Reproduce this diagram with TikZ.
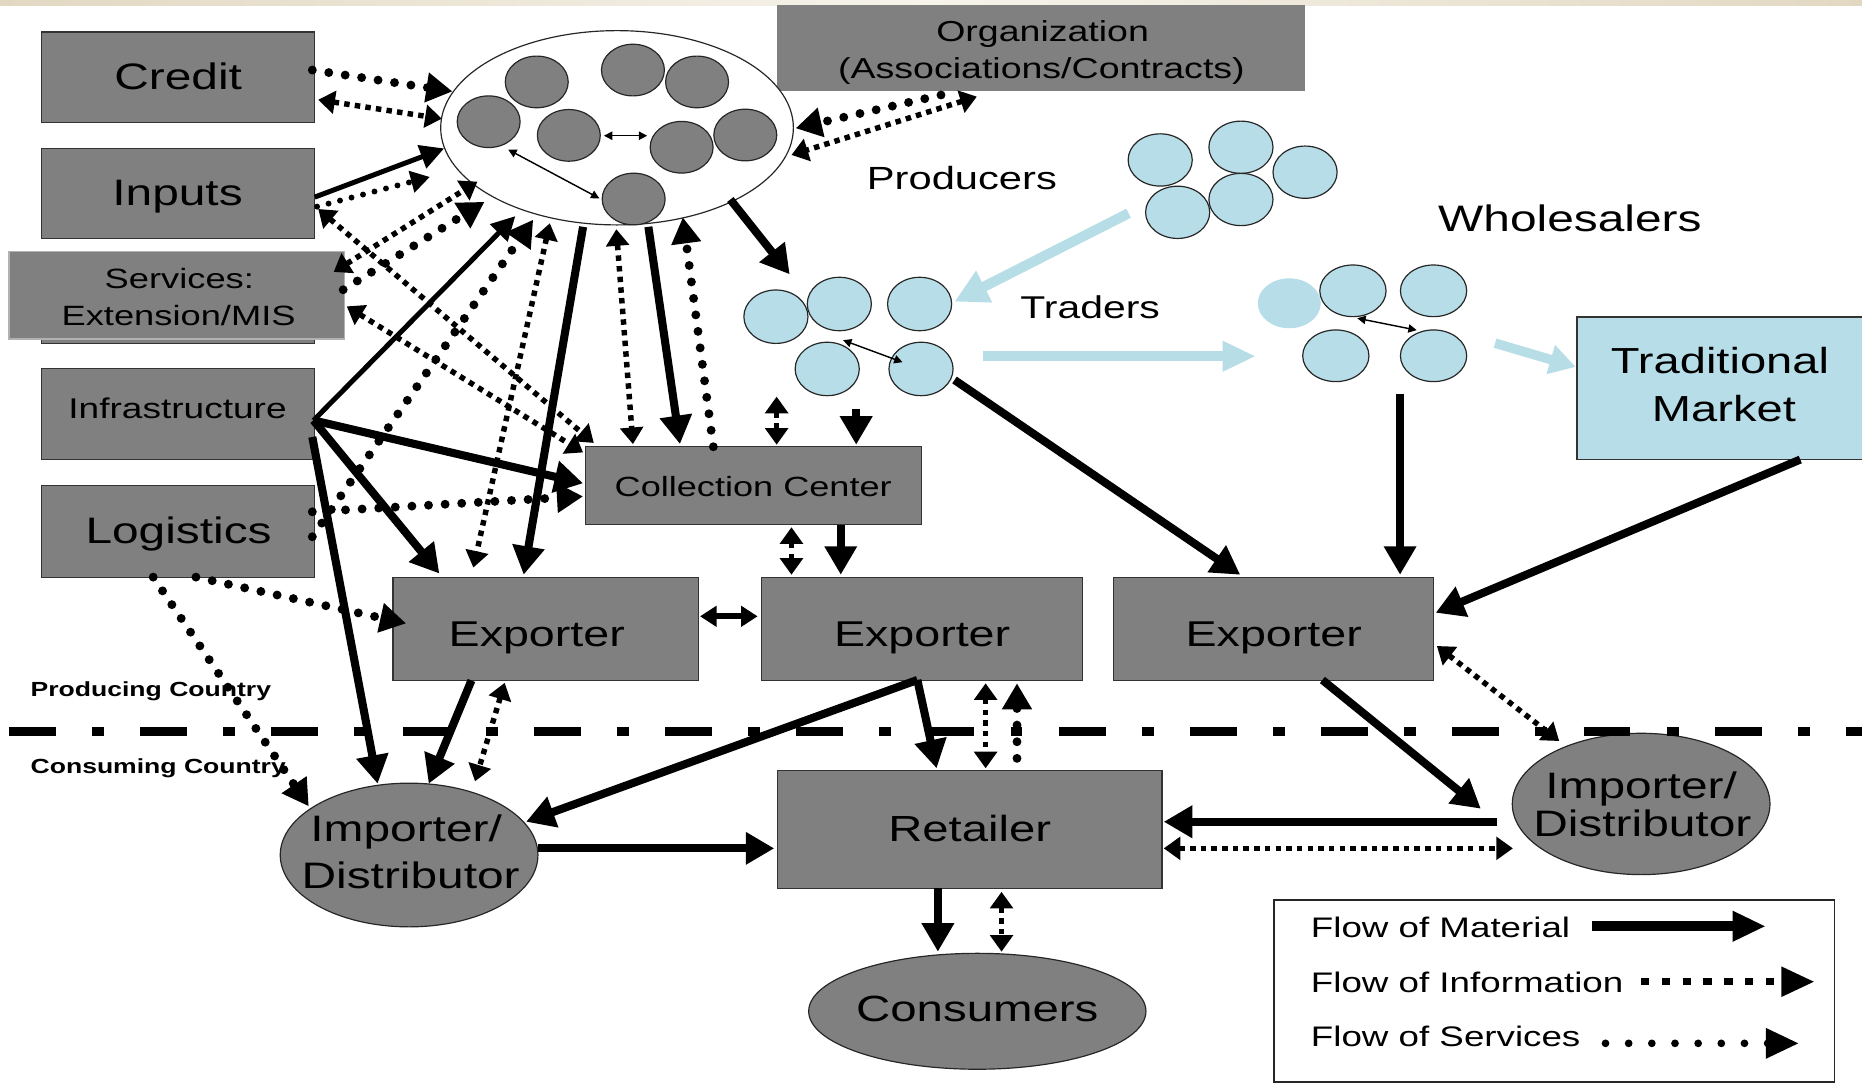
\documentclass[tikz,border=0pt]{standalone}
\usepackage{fontspec}
\setmainfont{Liberation Sans}[FakeStretch=1.3]
\usetikzlibrary{arrows.meta,shapes.geometric}
\definecolor{boxgray}{RGB}{128,128,128}
\definecolor{ltblue}{RGB}{183,221,232}
\definecolor{ltarrow}{RGB}{183,222,230}
\definecolor{beigeA}{RGB}{226,216,194}
\definecolor{beigeB}{RGB}{247,244,236}
\newcommand\myfs[2]{\fontsize{#1}{#2}\selectfont}
\tikzset{
  AMat/.tip={Triangle[length=24pt,width=26pt]},
  AMed/.tip={Triangle[length=20pt,width=20pt]},
  AExx/.tip={Triangle[length=14pt,width=17pt]},
  AInf/.tip={Triangle[length=14pt,width=19pt]},
  ASrv/.tip={Triangle[length=22pt,width=24pt]},
  ASrs/.tip={Triangle[length=16pt,width=18pt]},
  ATin/.tip={Triangle[length=7pt,width=7pt]},
  ALb/.tip={Triangle[length=28pt,width=28pt]},
  ALbs/.tip={Triangle[length=22pt,width=24pt]},
  ALeg/.tip={Triangle[length=28pt,width=24pt]},
}
\begin{document}
\begin{tikzpicture}[x=1pt,y=-1pt,
  box/.style={draw=black!80, line width=1pt, fill=boxgray, inner sep=0pt},
  circg/.style={ellipse, draw=black!85, line width=1pt, fill=boxgray, minimum width=53pt, minimum height=43.5pt, inner sep=0pt},
  circb/.style={ellipse, draw=black!85, line width=1pt, fill=ltblue, minimum width=54pt, minimum height=44pt, inner sep=0pt},
  ell/.style={ellipse, draw=black!85, line width=1pt, fill=boxgray, inner sep=0pt},
  txt/.style={inner sep=0pt, anchor=base},
  mat/.style={line width=6.8pt, -AMat},
  matm/.style={line width=4.2pt, -AMed},
  info/.style={line width=4.6pt, dash pattern=on 4.6pt off 4.4pt, AInf-AInf},
  serv/.style={line width=7.5pt, line cap=round, dash pattern=on 0pt off 14pt, -ASrv},
  servs/.style={line width=5pt, line cap=round, dash pattern=on 0pt off 10pt, -ASrs},
  thinar/.style={line width=1.2pt, ATin-ATin},
  lb/.style={draw=ltarrow, line width=8.5pt, -ALb},
]
% background
\fill[white] (0,0) rectangle (1568,912);
\useasboundingbox (0,0) rectangle (1568,912);
\shade[left color=beigeA, right color=beigeA, middle color=beigeB] (0,0) rectangle (1568,5);

% left boxes
\node[box, minimum width=230pt, minimum height=76pt] (credit) at (150,65) {};
\node[txt, font=\myfs{31}{37}] (credittxt) at (150,75.5) {Credit};
\node[box, minimum width=230pt, minimum height=76pt] (inputs) at (150,163) {};
\node[txt, font=\myfs{31}{37}] (inputstxt) at (149.5,173) {Inputs};
\node[box, minimum width=230pt, minimum height=77pt] (servback) at (150,250.5) {};
\node[box, draw=gray!60, minimum width=282.5pt, minimum height=73.5pt] (services) at (148.75,248.75) {};
\node[txt, font=\myfs{23.5}{30}] (servtxta) at (151,242.8) {Services:};
\node[txt, font=\myfs{23.5}{30}] (servtxtb) at (150.4,273.7) {Extension/MIS};
\node[box, minimum width=230pt, minimum height=77pt] (infra) at (150,348.5) {};
\node[txt, font=\myfs{24}{30}] (infratxt) at (149.5,352.3) {Infrastructure};
\node[box, minimum width=230pt, minimum height=77pt] (logistics) at (150,447.5) {};
\node[txt, font=\myfs{31}{37}] (logtxt) at (150.4,457.8) {Logistics};

% organization
\node[box, draw=none, minimum width=445pt, minimum height=73pt] (org) at (876.5,40.5) {};
\node[txt, font=\myfs{24.3}{30}] (orgtxta) at (878,35.1) {Organization};
\node[txt, font=\myfs{24.3}{30}] (orgtxtb) at (877,66) {(Associations/Contracts)};

% producers ellipse
\node[ellipse, draw=black!85, line width=1pt, fill=white, minimum width=297pt, minimum height=163.6pt, inner sep=0pt] (prod) at (519.6,107.6) {};
\node[circg] (pc1) at (452,69) {};
\node[circg] (pc2) at (533,59) {};
\node[circg] (pc3) at (587,69) {};
\node[circg] (pc4) at (411.5,102.5) {};
\node[circg] (pc5) at (479,114) {};
\node[circg] (pc6) at (574,124) {};
\node[circg] (pc7) at (627.6,113.7) {};
\node[circg] (pc8) at (533.6,167.6) {};
\draw[thinar] ([shift={(29.6,0.3)}]pc5.center) -- ([shift={(-29,-9.7)}]pc6.center);
\draw[thinar] ([shift={(16.5,23.5)}]pc4.center) -- ([shift={(-28.9,-0.6)}]pc8.center);

\node[txt, font=\myfs{27}{33}] (producers) at (810,160) {Producers};

% light blue producers group
\node[circb] (pb1) at (977,134.7) {};
\node[circb] (pb2) at (1045,124) {};
\node[circb] (pb3) at (1099,145) {};
\node[circb] (pb4) at (991.7,178.8) {};
\node[circb] (pb5) at (1045,168) {};

% traders
\node[circb, minimum height=45pt] (t1) at (653.4,266.7) {};
\node[circb, minimum height=45pt] (t2) at (706.8,256) {};
\node[circb, minimum height=45pt] (t3) at (774.4,256) {};
\node[circb, minimum height=45pt] (t4) at (696.6,310.7) {};
\node[circb, minimum height=45pt] (t5) at (775.6,310.7) {};
\draw[thinar] ([shift={(13.4,-24.2)}]t4.center) -- ([shift={(-15.6,-5.7)}]t5.center);
\node[txt, font=\myfs{26.5}{32}] (traders) at (918,268) {Traders};

% wholesalers
\node[circb, draw=none, minimum width=53pt, minimum height=42pt] (wg) at (1085.7,255.4) {};
\node[circb, minimum width=55.8pt, minimum height=43.5pt] (w1) at (1139.3,244.9) {};
\node[circb, minimum width=55.8pt, minimum height=43.5pt] (w2) at (1207.2,244.9) {};
\node[circb, minimum width=55.8pt, minimum height=43.5pt] (w3) at (1124.9,299.6) {};
\node[circb, minimum width=55.8pt, minimum height=43.5pt] (w4) at (1207.2,299.6) {};
\draw[thinar] ([shift={(3.7,23.1)}]w1.center) -- ([shift={(-14.2,-21.6)}]w4.center);
\node[txt, font=\myfs{31}{37}] (wholesalers) at (1322,195) {Wholesalers};

% traditional market
\node[box, fill=ltblue, minimum width=246pt, minimum height=120pt] (tm) at (1451,327) {};
\node[txt, font=\myfs{30.5}{37}] (tmtxta) at (1448.4,314.4) {Traditional};
\node[txt, font=\myfs{30.5}{37}] (tmtxtb) at (1451.7,355.1) {Market};

% collection center and exporters
\node[box, minimum width=283pt, minimum height=66pt] (cc) at (634.5,409) {};
\node[txt, font=\myfs{23.4}{29}] (cctxt) at (634.3,418.2) {Collection Center};
\node[box, minimum width=257pt, minimum height=87pt] (ex1) at (459.5,529.5) {};
\node[txt, font=\myfs{30.2}{36}] (ex1txt) at (452,544.6) {Exporter};
\node[box, minimum width=270pt, minimum height=87pt] (ex2) at (776.5,529.5) {};
\node[txt, font=\myfs{30.2}{36}] (ex2txt) at (776.5,544.6) {Exporter};
\node[box, minimum width=269pt, minimum height=87pt] (ex3) at (1072.5,529.5) {};
\node[txt, font=\myfs{30.2}{36}] (ex3txt) at (1072.6,544.6) {Exporter};

% consuming side
\node[box, minimum width=324pt, minimum height=99pt] (retailer) at (816.5,698.5) {};
\node[txt, font=\myfs{30.6}{36}] (rettxt) at (816.6,708.8) {Retailer};
\node[ell, minimum width=217pt, minimum height=121pt] (impL) at (344.5,720) {};
\node[txt, font=\myfs{31}{37}] (impLa) at (342,708.8) {Importer/};
\node[txt, font=\myfs{31}{37}] (impLb) at (345.8,748) {Distributor};
\node[ell, minimum width=217pt, minimum height=119pt] (impR) at (1382,677) {};
\node[txt, font=\myfs{31}{37}] (impRa) at (1382,672.3) {Importer/};
\node[txt, font=\myfs{31}{37}] (impRb) at (1383,704.6) {Distributor};
\node[ell, minimum width=284pt, minimum height=97.6pt] (cons) at (823,851.6) {};
\node[txt, font=\myfs{30.7}{36}] (constxt) at (823,860.4) {Consumers};

% divider
\draw[line width=8.4pt, dash pattern=on 39.5pt off 30.5pt on 10pt off 30.5pt] (7.5,616) -- (1568,616);
\node[txt, anchor=base west, font=\bfseries\myfs{17.2}{21}] (prodcountry) at (25.6,586.7) {Producing Country};
\node[txt, anchor=base west, font=\bfseries\myfs{17.2}{21}] (conscountry) at (25.6,651.2) {Consuming Country};

% light blue flows
\draw[lb] ([shift={(-41.3,0.8)}]pb4.center) -- ([shift={(29.4,-2)}]t3.center);
\draw[lb, -{Triangle[length=28pt,width=24pt]}] ([shift={(52.4,-10.7)}]t5.center) -- ([shift={(-28.2,44.6)}]wg.center);
\draw[lb, line width=8pt, -ALbs] ([shift={(51.8,-10.6)}]w4.center) -- ([shift={(-124,-18)}]tm.center);

% credit / inputs / services
\draw[serv] ([shift={(113,-6)}]credit.center) -- ([shift={(-138.6,-30.6)}]prod.center);
\draw[info] ([shift={(118,19)}]credit.center) -- ([shift={(-147.6,-7.6)}]prod.center);
\draw[matm] ([shift={(115,3)}]inputs.center) -- ([shift={(-145.6,17.4)}]prod.center);
\draw[servs] ([shift={(117,11)}]inputs.center) -- ([shift={(-157.6,41.4)}]prod.center);
\draw[info] ([shift={(118,13)}]inputs.center) -- ([shift={(-134.5,-36)}]cc.center);
\draw[info] ([shift={(143.25,9.25)}]services.center) -- ([shift={(-143.5,-28)}]cc.center);
\draw[info] ([shift={(132.25,-19.75)}]services.center) -- ([shift={(-117.6,45.4)}]prod.center);
\draw[serv] ([shift={(140.25,-4.75)}]services.center) -- ([shift={(-111.6,62.4)}]prod.center);

% infrastructure / logistics
\draw[matm] ([shift={(114,5.5)}]infra.center) -- ([shift={(-85.6,74.4)}]prod.center);
\draw[serv] ([shift={(113,4.5)}]logistics.center) -- ([shift={(-70.6,77.4)}]prod.center);
\draw[mat] ([shift={(114,5.5)}]infra.center) -- ([shift={(-143.5,-2)}]cc.center);
\draw[serv] ([shift={(113,-16.5)}]logistics.center) -- ([shift={(-143.5,9)}]cc.center);
\draw[mat] ([shift={(114,5.5)}]infra.center) -- ([shift={(-89.5,-46.5)}]ex1.center);
\draw[mat] ([shift={(113,19.5)}]infra.center) -- ([shift={(-26.5,-60)}]impL.center);
\draw[serv] ([shift={(15,38.5)}]logistics.center) -- ([shift={(-117.5,-4.5)}]ex1.center);
\draw[serv] ([shift={(-21,38.5)}]logistics.center) -- ([shift={(-84.5,-41)}]impL.center);

% producers to collection center / exporter
\draw[info] ([shift={(-56.6,80.4)}]prod.center) -- ([shift={(-60.9,-51.5)}]ex1.center);
\draw[mat] ([shift={(-28.6,83.4)}]prod.center) -- ([shift={(-18.5,-45.5)}]ex1.center);
\draw[info] ([shift={(-0.6,85.4)}]prod.center) -- ([shift={(-101.5,-35)}]cc.center);
\draw[mat] ([shift={(26.4,83.4)}]prod.center) -- ([shift={(-61.9,-35)}]cc.center);
\draw[serv] ([shift={(-33.8,-32.8)}]cc.center) -- ([shift={(55.4,75.4)}]prod.center);
\draw[mat] ([shift={(95.4,60.4)}]prod.center) -- ([shift={(11.6,-35.7)}]t1.center);

% organization
\draw[serv] ([shift={(-84.1,39.5)}]org.center) -- ([shift={(150.4,0.4)}]prod.center);
\draw[info] ([shift={(-53.9,40.9)}]org.center) -- ([shift={(146.9,22.9)}]prod.center);

% traders / collection center / exporters
\draw[info] ([shift={(-42.6,23.3)}]t4.center) -- ([shift={(19.5,-34.5)}]cc.center);
\draw[mat] ([shift={(24.4,33.3)}]t4.center) -- ([shift={(86.5,-34.5)}]cc.center);
\draw[info] ([shift={(32,35)}]cc.center) -- ([shift={(-110,-45.5)}]ex2.center);
\draw[mat] ([shift={(73.5,33)}]cc.center) -- ([shift={(-68.5,-45.5)}]ex2.center);
\draw[line width=4.8pt, AExx-AExx] ([shift={(130,-10.5)}]ex1.center) -- ([shift={(-138.5,-10.5)}]ex2.center);
\draw[mat] ([shift={(28.2,9.3)}]t5.center) -- ([shift={(-28.1,-45.5)}]ex3.center);
\draw[mat] ([shift={(-28.2,32.4)}]w4.center) -- ([shift={(106.5,-45.5)}]ex3.center);
\draw[mat] ([shift={(65,60)}]tm.center) -- ([shift={(136.5,-13.5)}]ex3.center);

% exporters to consuming side
\draw[mat] ([shift={(-62.5,43.5)}]ex1.center) -- ([shift={(16.5,-60)}]impL.center);
\draw[info] ([shift={(-34.5,45.5)}]ex1.center) -- ([shift={(55.5,-62)}]impL.center);
\draw[mat] ([shift={(-4,43.1)}]ex2.center) -- ([shift={(-27.8,-51.5)}]retailer.center);
\draw[mat] ([shift={(-4,43.1)}]ex2.center) -- ([shift={(98.5,-28)}]impL.center);
\draw[info] ([shift={(53.5,45.9)}]ex2.center) -- ([shift={(13.5,-51.5)}]retailer.center);
\draw[serv] ([shift={(39.9,-59.9)}]retailer.center) -- ([shift={(79.9,45.9)}]ex2.center);
\draw[info] ([shift={(137.5,14.5)}]ex3.center) -- ([shift={(-69,-53)}]impR.center);
\draw[mat] ([shift={(41.1,43.1)}]ex3.center) -- ([shift={(-135,4)}]impR.center);
\draw[mat] ([shift={(-121,15)}]impR.center) -- ([shift={(163.5,-6.5)}]retailer.center);
\draw[info] ([shift={(163.5,15.9)}]retailer.center) -- ([shift={(-108,37.4)}]impR.center);
\draw[mat] ([shift={(108.5,-5.6)}]impL.center) -- ([shift={(-164.5,15.9)}]retailer.center);
\draw[mat] ([shift={(-26.7,49.5)}]retailer.center) -- ([shift={(-33.2,-50.2)}]cons.center);
\draw[info] ([shift={(26.9,52.5)}]retailer.center) -- ([shift={(20.4,-50.2)}]cons.center);

% legend
\node[draw=black!85, line width=1.2pt, fill=white, minimum width=472pt, minimum height=153pt, inner sep=0pt] (legend) at (1309,834.5) {};
\node[txt, anchor=base west, font=\myfs{23.8}{29}] (legmat) at (1103.7,789.3) {Flow of Material};
\node[txt, anchor=base west, font=\myfs{23.8}{29}] (leginf) at (1103.7,835.6) {Flow of Information};
\node[txt, anchor=base west, font=\myfs{23.8}{29}] (legsrv) at (1103.7,881.4) {Flow of Services};
\draw[line width=8.4pt, -ALeg] ([shift={(32,-54.5)}]legend.center) -- ([shift={(178,-54.5)}]legend.center);
\draw[line width=6pt, dash pattern=on 7pt off 10.5pt, -ALeg] ([shift={(73,-7.8)}]legend.center) -- ([shift={(219,-7.8)}]legend.center);
\draw[line width=6.5pt, line cap=round, dash pattern=on 0pt off 19.5pt, -ALeg] ([shift={(43,44.1)}]legend.center) -- ([shift={(206,44.1)}]legend.center);
\end{tikzpicture}
\end{document}
